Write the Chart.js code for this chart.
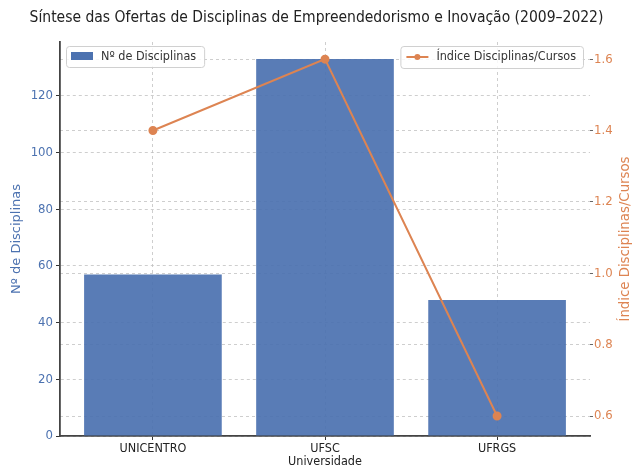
<!DOCTYPE html>
<html><head><meta charset="UTF-8">
<title>Síntese das Ofertas de Disciplinas</title>
<script src="https://cdn.jsdelivr.net/npm/chart.js"></script>
<style>html,body{margin:0;padding:0;background:#fff}canvas{display:block}</style>
</head><body>
<canvas id="c" width="633" height="468"></canvas>
<script>
// dados
const universidades = ['UNICENTRO', 'UFSC', 'UFRGS'];
const numDisciplinas = [57, 133, 48];
const indiceDiscCursos = [1.4, 1.6, 0.6];
const ticksEsq = [0, 20, 40, 60, 80, 100, 120];
const ticksDir = [0.6, 0.8, 1.0, 1.2, 1.4, 1.6];

const AZUL = '#4C72B0', LARANJA = '#DD8452';
const FONTE = "'DejaVu Sans', sans-serif";
// a imagem original parece levemente comprimida na horizontal
const FONTE_C = "'DejaVu Sans Condensed', 'DejaVu Sans', sans-serif";
const grade = 'rgba(190,190,190,0.75)';

// eixo x numérico (posição = índice da categoria), como no matplotlib
const pontos = arr => arr.map((v, i) => ({ x: i, y: v }));

// legendas separadas (uma por eixo) + título do eixo direito lido de baixo p/ cima
const extras = {
  id: 'extras',
  afterDraw(chart) {
    const ctx = chart.ctx;
    const area = chart.chartArea;
    const ds = chart.data.datasets;
    ctx.save();
    ctx.font = '12.5px ' + FONTE_C;
    ctx.textBaseline = 'middle';

    // caixa esquerda (barras)
    let x = area.left + 6, y = area.top + 4;
    let w = ctx.measureText(ds[0].label).width + 43;
    caixa(ctx, x, y, w, 21);
    ctx.fillStyle = AZUL;
    ctx.fillRect(x + 5, y + 6, 22, 8);
    ctx.fillStyle = '#333';
    ctx.fillText(ds[0].label, x + 35, y + 11);

    // caixa direita (linha)
    w = ctx.measureText(ds[1].label).width + 43;
    x = area.right - 7 - w;
    caixa(ctx, x, y, w, 22);
    ctx.strokeStyle = LARANJA; ctx.lineWidth = 2;
    ctx.beginPath(); ctx.moveTo(x + 6, y + 11); ctx.lineTo(x + 28, y + 11); ctx.stroke();
    ctx.fillStyle = LARANJA;
    ctx.beginPath(); ctx.arc(x + 17, y + 11, 3, 0, Math.PI * 2); ctx.fill();
    ctx.fillStyle = '#333';
    ctx.fillText(ds[1].label, x + 36, y + 11);

    // título eixo direito
    ctx.font = '13.3px ' + FONTE;
    ctx.fillStyle = LARANJA;
    ctx.textAlign = 'center';
    ctx.translate(626, (area.top + area.bottom) / 2);
    ctx.rotate(-Math.PI / 2);
    ctx.fillText('Índice Disciplinas/Cursos', 0, 0);
    ctx.restore();

    function caixa(ctx, x, y, w, h) {
      ctx.fillStyle = 'rgba(255,255,255,0.85)';
      ctx.strokeStyle = '#d0d0d0'; ctx.lineWidth = 1;
      ctx.beginPath();
      ctx.roundRect(x + 0.5, y + 0.5, w, h, 3);
      ctx.fill(); ctx.stroke();
    }
  }
};

new Chart(document.getElementById('c'), {
  data: {
    datasets: [
      {
        type: 'bar', label: 'Nº de Disciplinas', data: pontos(numDisciplinas),
        backgroundColor: 'rgba(76,114,176,0.93)', yAxisID: 'y',
        categoryPercentage: 0.8, barPercentage: 1, order: 2
      },
      {
        type: 'line', label: 'Índice Disciplinas/Cursos', data: pontos(indiceDiscCursos),
        borderColor: LARANJA, backgroundColor: LARANJA, borderWidth: 2,
        pointRadius: 3.5, pointHoverRadius: 3.5, yAxisID: 'y1', order: 1
      }
    ]
  },
  options: {
    responsive: false, animation: false, devicePixelRatio: 1,
    layout: { padding: 0 },
    plugins: {
      legend: { display: false },
      tooltip: { enabled: false },
      title: {
        display: true,
        text: 'Síntese das Ofertas de Disciplinas de Empreendedorismo e Inovação (2009–2022)',
        color: '#222', font: { family: FONTE_C, size: 15.5, weight: 'normal' },
        padding: { top: 9, bottom: 14.4 }
      }
    },
    scales: {
      x: {
        type: 'linear', offset: false, min: -0.54, max: universidades.length - 1 + 0.54,
        afterBuildTicks(s) { s.ticks = universidades.map((_, i) => ({ value: i })); },
        grid: { offset: false, color: grade, tickColor: '#333', tickLength: 4 },
        border: { color: '#444', width: 1.8, dash: [3, 3] },
        ticks: { color: '#222', font: { family: FONTE_C, size: 12.5 }, padding: 1, maxRotation: 0,
                 callback: v => universidades[v] },
        title: { display: true, text: 'Universidade', color: '#222', font: { family: FONTE_C, size: 12.5, lineHeight: 1 }, padding: 0 },
        afterFit(s) { s.height = 32; }
      },
      y: {
        position: 'left', min: 0, max: 139,
        afterBuildTicks(s) { s.ticks = ticksEsq.map(v => ({ value: v })); },
        grid: { color: grade, tickColor: '#333', tickLength: 4 },
        border: { color: '#444', width: 1.8, dash: [3, 3] },
        ticks: { color: AZUL, font: { family: FONTE_C, size: 13 }, padding: 3 },
        title: { display: true, text: 'Nº de Disciplinas', color: AZUL, font: { family: FONTE, size: 13 }, padding: { top: 9 } },
        afterFit(s) { s.width = 60; }
      },
      y1: {
        position: 'right', min: 0.544, max: 1.648,
        afterBuildTicks(s) { s.ticks = ticksDir.map(v => ({ value: v })); },
        grid: { color: grade, tickColor: '#666', tickLength: 3 },
        border: { display: false, dash: [3, 3] },
        ticks: { color: LARANJA, font: { family: FONTE_C, size: 13 }, padding: 1, callback: v => v.toFixed(1) },
        afterFit(s) { s.width = 43; }
      }
    }
  },
  plugins: [extras]
});
</script>
</body></html>
